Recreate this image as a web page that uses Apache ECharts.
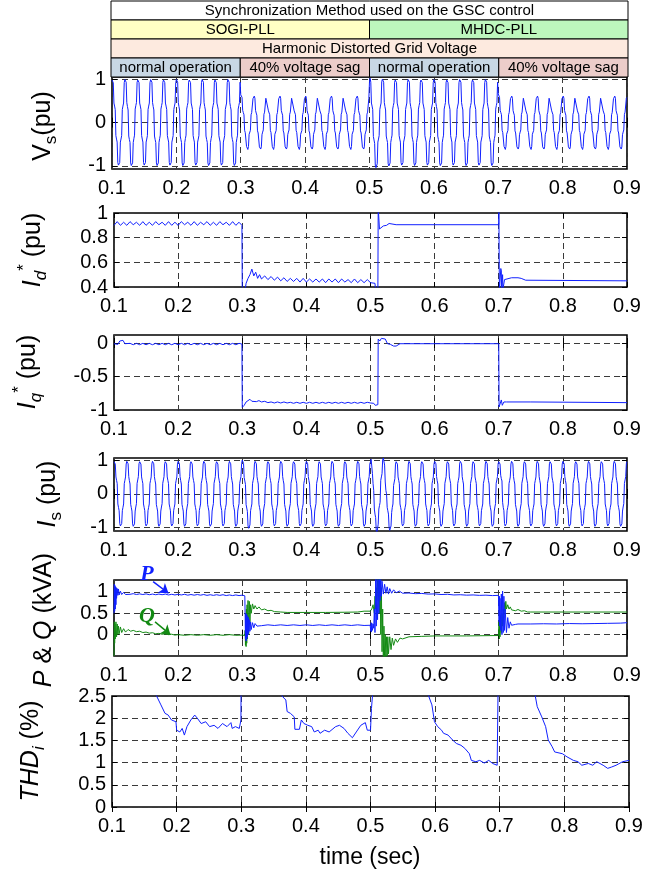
<!DOCTYPE html>
<html><head><meta charset="utf-8">
<script src="https://cdn.jsdelivr.net/npm/echarts@6/dist/echarts.min.js"></script>
<style>html,body{margin:0;padding:0;background:#fff}#chart{width:667px;height:875px}</style>
</head><body><div id="chart"></div>
<script>
// ---------------- data ----------------
const timeTicks = [0.1,0.2,0.3,0.4,0.5,0.6,0.7,0.8,0.9];
const waveStart = 0.1;      // s, first waveform sample
const sampleStep = 0.001;   // s, waveform sampling interval

// grid voltage Vs (pu), one row = one 20 ms cycle
const vsValues = [
0.98,1.00,0.92,0.45,0.38,0.30,-0.30,-0.38,-0.45,-0.92,-0.98,-1.00,-0.92,-0.45,-0.38,-0.30,0.30,0.38,0.45,0.92,
0.99,1.00,0.93,0.46,0.37,0.29,-0.31,-0.39,-0.46,-0.93,-0.99,-1.00,-0.93,-0.46,-0.37,-0.29,0.31,0.39,0.46,0.93,
0.98,1.00,0.92,0.45,0.38,0.30,-0.30,-0.38,-0.45,-0.92,-0.98,-1.00,-0.92,-0.45,-0.38,-0.30,0.30,0.38,0.45,0.92,
0.99,1.00,0.93,0.46,0.37,0.29,-0.31,-0.39,-0.46,-0.93,-0.99,-1.00,-0.93,-0.46,-0.37,-0.29,0.31,0.39,0.46,0.93,
0.98,1.00,0.92,0.45,0.38,0.30,-0.30,-0.38,-0.45,-0.92,-0.98,-1.00,-0.92,-0.45,-0.38,-0.30,0.30,0.38,0.45,0.92,
0.99,1.00,0.93,0.46,0.37,0.29,-0.31,-0.39,-0.46,-0.93,-0.99,-1.00,-0.93,-0.46,-0.37,-0.29,0.31,0.39,0.46,0.93,
0.98,1.00,0.92,0.45,0.38,0.30,-0.30,-0.38,-0.45,-0.92,-0.98,-1.00,-0.92,-0.45,-0.38,-0.30,0.30,0.38,0.45,0.92,
0.99,1.00,0.93,0.46,0.37,0.29,-0.31,-0.39,-0.46,-0.93,-0.99,-1.00,-0.93,-0.46,-0.37,-0.29,0.31,0.39,0.46,0.93,
0.98,1.00,0.92,0.45,0.38,0.30,-0.30,-0.38,-0.45,-0.92,-0.98,-1.00,-0.92,-0.45,-0.38,-0.30,0.30,0.38,0.45,0.92,
0.99,1.00,0.93,0.46,0.37,0.29,-0.31,-0.39,-0.46,-0.93,-0.99,-1.00,-0.93,-0.46,-0.37,-0.29,0.31,0.39,0.46,0.93,
0.64,0.66,0.58,0.28,0.23,0.18,-0.18,-0.23,-0.27,-0.55,-0.59,-0.62,-0.55,-0.27,-0.23,-0.18,0.18,0.23,0.27,0.55,
0.59,0.61,0.56,0.28,0.22,0.17,-0.19,-0.24,-0.28,-0.56,-0.60,-0.61,-0.56,-0.28,-0.22,-0.17,0.19,0.24,0.28,0.56,
0.58,0.60,0.55,0.27,0.23,0.18,-0.18,-0.23,-0.27,-0.55,-0.59,-0.62,-0.55,-0.27,-0.23,-0.18,0.18,0.23,0.27,0.55,
0.59,0.61,0.56,0.28,0.22,0.17,-0.19,-0.24,-0.28,-0.56,-0.60,-0.61,-0.56,-0.28,-0.22,-0.17,0.19,0.24,0.28,0.56,
0.58,0.60,0.55,0.27,0.23,0.18,-0.18,-0.23,-0.27,-0.55,-0.59,-0.62,-0.55,-0.27,-0.23,-0.18,0.18,0.23,0.27,0.55,
0.59,0.61,0.56,0.28,0.22,0.17,-0.19,-0.24,-0.28,-0.56,-0.60,-0.61,-0.56,-0.28,-0.22,-0.17,0.19,0.24,0.28,0.56,
0.58,0.60,0.55,0.27,0.23,0.18,-0.18,-0.23,-0.27,-0.55,-0.59,-0.62,-0.55,-0.27,-0.23,-0.18,0.18,0.23,0.27,0.55,
0.59,0.61,0.56,0.28,0.22,0.17,-0.19,-0.24,-0.28,-0.56,-0.60,-0.61,-0.56,-0.28,-0.22,-0.17,0.19,0.24,0.28,0.56,
0.58,0.60,0.55,0.27,0.23,0.18,-0.18,-0.23,-0.27,-0.55,-0.59,-0.62,-0.55,-0.27,-0.23,-0.18,0.18,0.23,0.27,0.55,
0.59,0.61,0.56,0.28,0.22,0.17,-0.19,-0.24,-0.28,-0.56,-0.60,-0.61,-0.56,-0.28,-0.22,-0.17,0.19,0.24,0.28,0.56,
0.95,1.02,0.93,0.45,0.38,0.30,-0.32,-0.40,-0.48,-0.98,-1.04,-1.06,-0.95,-0.45,-0.38,-0.30,0.30,0.38,0.45,0.94,
1.00,1.02,0.93,0.46,0.37,0.29,-0.31,-0.39,-0.46,-0.95,-1.00,-1.01,-0.93,-0.46,-0.37,-0.29,0.31,0.39,0.46,0.93,
0.98,1.00,0.92,0.45,0.38,0.30,-0.30,-0.38,-0.45,-0.92,-0.98,-1.00,-0.92,-0.45,-0.38,-0.30,0.30,0.38,0.45,0.92,
0.99,1.00,0.93,0.46,0.37,0.29,-0.31,-0.39,-0.46,-0.93,-0.99,-1.00,-0.93,-0.46,-0.37,-0.29,0.31,0.39,0.46,0.93,
0.98,1.00,0.92,0.45,0.38,0.30,-0.30,-0.38,-0.45,-0.92,-0.98,-1.00,-0.92,-0.45,-0.38,-0.30,0.30,0.38,0.45,0.92,
0.99,1.00,0.93,0.46,0.37,0.29,-0.31,-0.39,-0.46,-0.93,-0.99,-1.00,-0.93,-0.46,-0.37,-0.29,0.31,0.39,0.46,0.93,
0.98,1.00,0.92,0.45,0.38,0.30,-0.30,-0.38,-0.45,-0.92,-0.98,-1.00,-0.92,-0.45,-0.38,-0.30,0.30,0.38,0.45,0.92,
0.99,1.00,0.93,0.46,0.37,0.29,-0.31,-0.39,-0.46,-0.93,-0.99,-1.00,-0.93,-0.46,-0.37,-0.29,0.31,0.39,0.46,0.93,
0.98,1.00,0.92,0.45,0.38,0.30,-0.30,-0.38,-0.45,-0.92,-0.98,-1.00,-0.92,-0.45,-0.38,-0.30,0.30,0.38,0.45,0.92,
0.99,1.00,0.93,0.46,0.37,0.29,-0.31,-0.39,-0.46,-0.93,-0.99,-1.00,-0.93,-0.46,-0.37,-0.29,0.31,0.39,0.46,0.93,
0.66,0.70,0.58,0.28,0.23,0.18,-0.18,-0.23,-0.27,-0.55,-0.59,-0.62,-0.55,-0.27,-0.23,-0.18,0.18,0.23,0.27,0.55,
0.59,0.61,0.56,0.28,0.22,0.17,-0.19,-0.24,-0.28,-0.56,-0.60,-0.61,-0.56,-0.28,-0.22,-0.17,0.19,0.24,0.28,0.56,
0.58,0.60,0.55,0.27,0.23,0.18,-0.18,-0.23,-0.27,-0.55,-0.59,-0.62,-0.55,-0.27,-0.23,-0.18,0.18,0.23,0.27,0.55,
0.59,0.61,0.56,0.28,0.22,0.17,-0.19,-0.24,-0.28,-0.56,-0.60,-0.61,-0.56,-0.28,-0.22,-0.17,0.19,0.24,0.28,0.56,
0.58,0.60,0.55,0.27,0.23,0.18,-0.18,-0.23,-0.27,-0.55,-0.59,-0.62,-0.55,-0.27,-0.23,-0.18,0.18,0.23,0.27,0.55,
0.59,0.61,0.56,0.28,0.22,0.17,-0.19,-0.24,-0.28,-0.56,-0.60,-0.61,-0.56,-0.28,-0.22,-0.17,0.19,0.24,0.28,0.56,
0.58,0.60,0.55,0.27,0.23,0.18,-0.18,-0.23,-0.27,-0.55,-0.59,-0.62,-0.55,-0.27,-0.23,-0.18,0.18,0.23,0.27,0.55,
0.59,0.61,0.56,0.28,0.22,0.17,-0.19,-0.24,-0.28,-0.56,-0.60,-0.61,-0.56,-0.28,-0.22,-0.17,0.19,0.24,0.28,0.56,
0.58,0.60,0.55,0.27,0.23,0.18,-0.18,-0.23,-0.27,-0.55,-0.59,-0.62,-0.55,-0.27,-0.23,-0.18,0.18,0.23,0.27,0.55,
0.59,0.61,0.56,0.28,0.22,0.17,-0.19,-0.24,-0.28,-0.56,-0.60,-0.61,-0.56,-0.28,-0.22,-0.17,0.19,0.24,0.28,0.56,
0.58
];

// grid current Is (pu), one row = one 20 ms cycle
const isValues = [
0.95,0.97,0.88,0.50,0.40,0.30,-0.30,-0.40,-0.50,-0.88,-0.95,-0.97,-0.88,-0.50,-0.40,-0.30,0.30,0.40,0.50,0.88,
0.96,0.98,0.89,0.51,0.39,0.29,-0.31,-0.41,-0.51,-0.89,-0.96,-0.98,-0.89,-0.51,-0.39,-0.29,0.31,0.41,0.51,0.89,
0.95,0.97,0.88,0.50,0.40,0.30,-0.30,-0.40,-0.50,-0.88,-0.95,-0.97,-0.88,-0.50,-0.40,-0.30,0.30,0.40,0.50,0.88,
0.96,0.98,0.89,0.51,0.39,0.29,-0.31,-0.41,-0.51,-0.89,-0.96,-0.98,-0.89,-0.51,-0.39,-0.29,0.31,0.41,0.51,0.89,
0.95,0.97,0.88,0.50,0.40,0.30,-0.30,-0.40,-0.50,-0.88,-0.95,-0.97,-0.88,-0.50,-0.40,-0.30,0.30,0.40,0.50,0.88,
0.96,0.98,0.89,0.51,0.39,0.29,-0.31,-0.41,-0.51,-0.89,-0.96,-0.98,-0.89,-0.51,-0.39,-0.29,0.31,0.41,0.51,0.89,
0.95,0.97,0.88,0.50,0.40,0.30,-0.30,-0.40,-0.50,-0.88,-0.95,-0.97,-0.88,-0.50,-0.40,-0.30,0.30,0.40,0.50,0.88,
0.96,0.98,0.89,0.51,0.39,0.29,-0.31,-0.41,-0.51,-0.89,-0.96,-0.98,-0.89,-0.51,-0.39,-0.29,0.31,0.41,0.51,0.89,
0.95,0.97,0.88,0.50,0.40,0.30,-0.30,-0.40,-0.50,-0.88,-0.95,-0.97,-0.88,-0.50,-0.40,-0.30,0.30,0.40,0.50,0.88,
0.96,0.98,0.89,0.51,0.39,0.29,-0.31,-0.41,-0.51,-0.89,-0.96,-0.98,-0.89,-0.51,-0.39,-0.29,0.31,0.41,0.51,0.89,
1.00,1.02,0.90,0.48,0.38,0.28,-0.32,-0.42,-0.52,-0.95,-1.02,-1.05,-0.92,-0.50,-0.40,-0.30,0.30,0.40,0.50,0.88,
0.96,0.98,0.89,0.51,0.39,0.29,-0.31,-0.41,-0.51,-0.89,-0.96,-0.98,-0.89,-0.51,-0.39,-0.29,0.31,0.41,0.51,0.89,
0.95,0.97,0.88,0.50,0.40,0.30,-0.30,-0.40,-0.50,-0.88,-0.95,-0.97,-0.88,-0.50,-0.40,-0.30,0.30,0.40,0.50,0.88,
0.96,0.98,0.89,0.51,0.39,0.29,-0.31,-0.41,-0.51,-0.89,-0.96,-0.98,-0.89,-0.51,-0.39,-0.29,0.31,0.41,0.51,0.89,
0.95,0.97,0.88,0.50,0.40,0.30,-0.30,-0.40,-0.50,-0.88,-0.95,-0.97,-0.88,-0.50,-0.40,-0.30,0.30,0.40,0.50,0.88,
0.96,0.98,0.89,0.51,0.39,0.29,-0.31,-0.41,-0.51,-0.89,-0.96,-0.98,-0.89,-0.51,-0.39,-0.29,0.31,0.41,0.51,0.89,
0.95,0.97,0.88,0.50,0.40,0.30,-0.30,-0.40,-0.50,-0.88,-0.95,-0.97,-0.88,-0.50,-0.40,-0.30,0.30,0.40,0.50,0.88,
0.96,0.98,0.89,0.51,0.39,0.29,-0.31,-0.41,-0.51,-0.89,-0.96,-0.98,-0.89,-0.51,-0.39,-0.29,0.31,0.41,0.51,0.89,
0.95,0.97,0.88,0.50,0.40,0.30,-0.30,-0.40,-0.50,-0.88,-0.95,-0.97,-0.88,-0.50,-0.40,-0.30,0.30,0.40,0.50,0.88,
0.96,0.98,0.89,0.51,0.39,0.29,-0.31,-0.41,-0.51,-0.89,-0.96,-0.98,-0.89,-0.51,-0.39,-0.29,0.31,0.41,0.51,0.89,
0.95,1.02,1.05,0.60,0.30,0.10,-0.45,-0.60,-0.70,-1.10,-1.16,-1.12,-0.90,-0.45,-0.35,-0.25,0.40,0.50,0.60,1.00,
1.06,1.04,0.85,0.35,0.10,0.00,-0.40,-0.50,-0.60,-1.00,-1.08,-1.10,-0.95,-0.55,-0.40,-0.30,0.25,0.35,0.45,0.88,
0.95,0.97,0.88,0.50,0.40,0.30,-0.30,-0.40,-0.50,-0.88,-0.95,-0.97,-0.88,-0.50,-0.40,-0.30,0.30,0.40,0.50,0.88,
0.96,0.98,0.89,0.51,0.39,0.29,-0.31,-0.41,-0.51,-0.89,-0.96,-0.98,-0.89,-0.51,-0.39,-0.29,0.31,0.41,0.51,0.89,
0.95,0.97,0.88,0.50,0.40,0.30,-0.30,-0.40,-0.50,-0.88,-0.95,-0.97,-0.88,-0.50,-0.40,-0.30,0.30,0.40,0.50,0.88,
0.96,0.98,0.89,0.51,0.39,0.29,-0.31,-0.41,-0.51,-0.89,-0.96,-0.98,-0.89,-0.51,-0.39,-0.29,0.31,0.41,0.51,0.89,
0.95,0.97,0.88,0.50,0.40,0.30,-0.30,-0.40,-0.50,-0.88,-0.95,-0.97,-0.88,-0.50,-0.40,-0.30,0.30,0.40,0.50,0.88,
0.96,0.98,0.89,0.51,0.39,0.29,-0.31,-0.41,-0.51,-0.89,-0.96,-0.98,-0.89,-0.51,-0.39,-0.29,0.31,0.41,0.51,0.89,
0.95,0.97,0.88,0.50,0.40,0.30,-0.30,-0.40,-0.50,-0.88,-0.95,-0.97,-0.88,-0.50,-0.40,-0.30,0.30,0.40,0.50,0.88,
0.96,0.98,0.89,0.51,0.39,0.29,-0.31,-0.41,-0.51,-0.89,-0.96,-0.98,-0.89,-0.51,-0.39,-0.29,0.31,0.41,0.51,0.89,
0.95,0.97,0.88,0.55,0.45,0.38,-0.25,-0.40,-0.50,-0.88,-0.95,-0.97,-0.88,-0.50,-0.40,-0.30,0.30,0.40,0.50,0.88,
0.96,0.98,0.89,0.51,0.39,0.29,-0.31,-0.41,-0.51,-0.89,-0.96,-0.98,-0.89,-0.51,-0.39,-0.29,0.31,0.41,0.51,0.89,
0.95,0.97,0.88,0.50,0.40,0.30,-0.30,-0.40,-0.50,-0.88,-0.95,-0.97,-0.88,-0.50,-0.40,-0.30,0.30,0.40,0.50,0.88,
0.96,0.98,0.89,0.51,0.39,0.29,-0.31,-0.41,-0.51,-0.89,-0.96,-0.98,-0.89,-0.51,-0.39,-0.29,0.31,0.41,0.51,0.89,
0.95,0.97,0.88,0.50,0.40,0.30,-0.30,-0.40,-0.50,-0.88,-0.95,-0.97,-0.88,-0.50,-0.40,-0.30,0.30,0.40,0.50,0.88,
0.96,0.98,0.89,0.51,0.39,0.29,-0.31,-0.41,-0.51,-0.89,-0.96,-0.98,-0.89,-0.51,-0.39,-0.29,0.31,0.41,0.51,0.89,
0.95,0.97,0.88,0.50,0.40,0.30,-0.30,-0.40,-0.50,-0.88,-0.95,-0.97,-0.88,-0.50,-0.40,-0.30,0.30,0.40,0.50,0.88,
0.96,0.98,0.89,0.51,0.39,0.29,-0.31,-0.41,-0.51,-0.89,-0.96,-0.98,-0.89,-0.51,-0.39,-0.29,0.31,0.41,0.51,0.89,
0.95,0.97,0.88,0.50,0.40,0.30,-0.30,-0.40,-0.50,-0.88,-0.95,-0.97,-0.88,-0.50,-0.40,-0.30,0.30,0.40,0.50,0.88,
0.96,0.98,0.89,0.51,0.39,0.29,-0.31,-0.41,-0.51,-0.89,-0.96,-0.98,-0.89,-0.51,-0.39,-0.29,0.31,0.41,0.51,0.89,
0.95
];

// Id* reference (pu): [time, value]
const idPoints = [
[0.100,0.90],[0.105,0.93],[0.110,0.90],[0.115,0.925],[0.120,0.90],[0.125,0.93],[0.130,0.905],[0.135,0.925],[0.140,0.90],[0.145,0.93],
[0.150,0.90],[0.155,0.925],[0.160,0.90],[0.165,0.93],[0.170,0.905],[0.175,0.925],[0.180,0.90],[0.185,0.93],[0.190,0.90],[0.195,0.925],
[0.200,0.90],[0.205,0.93],[0.210,0.905],[0.215,0.925],[0.220,0.90],[0.225,0.93],[0.230,0.90],[0.235,0.925],[0.240,0.905],[0.245,0.93],
[0.250,0.90],[0.255,0.925],[0.260,0.90],[0.265,0.93],[0.270,0.905],[0.275,0.925],[0.280,0.90],[0.285,0.93],[0.290,0.90],[0.295,0.925],[0.2995,0.90],
[0.300,0.36],[0.304,0.36],[0.306,0.43],[0.309,0.47],[0.312,0.50],[0.315,0.545],[0.318,0.49],[0.321,0.52],[0.324,0.47],[0.327,0.50],
[0.330,0.465],[0.335,0.49],[0.340,0.46],[0.345,0.485],[0.350,0.455],[0.355,0.48],[0.360,0.45],[0.365,0.475],[0.370,0.445],[0.375,0.47],
[0.380,0.445],[0.385,0.47],[0.390,0.44],[0.395,0.47],[0.400,0.44],[0.405,0.465],[0.410,0.44],[0.415,0.465],[0.420,0.44],[0.425,0.465],
[0.430,0.435],[0.435,0.465],[0.440,0.44],[0.445,0.465],[0.450,0.435],[0.455,0.465],[0.460,0.44],[0.465,0.46],[0.470,0.435],[0.475,0.465],
[0.480,0.435],[0.485,0.46],[0.490,0.435],[0.495,0.46],[0.500,0.435],[0.503,0.425],[0.507,0.43],[0.508,0.36],[0.5115,0.36],[0.512,1.05],
[0.5135,1.05],[0.514,0.87],[0.516,0.88],[0.520,0.895],[0.525,0.90],[0.529,0.915],[0.532,0.90],[0.540,0.905],[0.700,0.905],
[0.7002,1.05],[0.7008,1.05],[0.701,0.36],[0.703,0.36],[0.7032,0.55],[0.704,0.53],[0.7045,0.38],[0.7055,0.38],[0.706,0.50],[0.7065,0.38],
[0.7075,0.38],[0.709,0.46],[0.712,0.47],[0.720,0.475],[0.730,0.475],[0.735,0.47],[0.738,0.465],[0.742,0.455],[0.745,0.45],[0.900,0.45]
];

// Iq* reference (pu): [time, value]
const iqPoints = [
[0.100,-0.01],[0.103,0.00],[0.106,-0.02],[0.109,0.03],[0.112,0.01],[0.114,0.04],[0.117,-0.01],[0.120,-0.02],[0.125,-0.005],[0.130,-0.025],
[0.135,-0.005],[0.140,-0.025],[0.145,-0.005],[0.150,-0.025],[0.155,-0.005],[0.160,-0.025],[0.165,-0.005],[0.170,-0.025],[0.175,-0.005],[0.180,-0.025],
[0.185,-0.005],[0.190,-0.025],[0.195,-0.005],[0.200,-0.025],[0.205,-0.005],[0.210,-0.025],[0.215,-0.005],[0.220,-0.025],[0.225,-0.005],[0.230,-0.025],
[0.235,-0.005],[0.240,-0.025],[0.245,-0.005],[0.250,-0.025],[0.255,-0.005],[0.260,-0.025],[0.265,-0.005],[0.270,-0.025],[0.275,-0.005],[0.280,-0.025],
[0.285,-0.005],[0.290,-0.025],[0.295,-0.005],[0.2995,-0.015],
[0.300,-0.96],[0.303,-0.93],[0.306,-0.88],[0.309,-0.87],[0.312,-0.84],[0.315,-0.87],[0.318,-0.85],[0.322,-0.875],[0.326,-0.86],[0.330,-0.88],
[0.335,-0.87],[0.340,-0.89],[0.345,-0.88],[0.350,-0.895],[0.355,-0.88],[0.360,-0.895],[0.365,-0.88],[0.370,-0.895],[0.375,-0.885],[0.380,-0.9],
[0.385,-0.885],[0.390,-0.9],[0.395,-0.885],[0.400,-0.9],[0.405,-0.885],[0.410,-0.9],[0.415,-0.885],[0.420,-0.9],[0.425,-0.885],[0.430,-0.9],
[0.435,-0.885],[0.440,-0.9],[0.445,-0.885],[0.450,-0.9],[0.455,-0.885],[0.460,-0.9],[0.465,-0.885],[0.470,-0.9],[0.475,-0.885],[0.480,-0.9],
[0.485,-0.885],[0.490,-0.9],[0.495,-0.885],[0.500,-0.895],[0.505,-0.90],[0.5075,-0.93],[0.5115,-0.92],[0.512,0.06],[0.513,0.08],[0.5145,0.03],
[0.517,0.07],[0.520,0.085],[0.523,0.06],[0.5265,-0.01],[0.531,-0.02],[0.536,-0.045],[0.540,-0.045],[0.546,-0.01],[0.700,-0.01],
[0.7005,-0.955],[0.703,-0.93],[0.704,-0.85],[0.7055,-0.93],[0.708,-0.88],[0.712,-0.88],[0.750,-0.88],[0.752,-0.89],[0.900,-0.89]
];

// active power P (kVA): [time, value]
const pPoints = [
[0.100,0.50],[0.1005,1.18],[0.101,0.55],[0.1015,1.15],[0.102,0.60],[0.1025,1.12],[0.103,0.70],[0.1035,1.10],[0.104,0.85],[0.105,1.08],
[0.106,0.92],[0.107,1.07],[0.108,0.93],[0.110,1.02],[0.112,0.94],[0.115,0.99],[0.118,0.94],[0.121,0.97],[0.125,0.945],
[0.130,0.96],[0.135,0.94],[0.140,0.955],[0.145,0.94],[0.150,0.955],[0.155,0.935],[0.160,0.95],[0.165,0.935],[0.170,0.95],[0.175,0.935],
[0.180,0.95],[0.185,0.93],[0.190,0.945],[0.195,0.93],[0.200,0.945],[0.205,0.93],[0.210,0.945],[0.215,0.925],[0.220,0.94],[0.225,0.925],
[0.230,0.94],[0.235,0.925],[0.240,0.94],[0.245,0.92],[0.250,0.935],[0.255,0.92],[0.260,0.935],[0.265,0.92],[0.270,0.935],[0.275,0.915],
[0.280,0.93],[0.285,0.915],[0.290,0.93],[0.295,0.915],[0.300,0.925],[0.304,0.91],
[0.3045,0.45],[0.305,-0.10],[0.3055,0.50],[0.306,-0.15],[0.3065,0.48],[0.307,-0.10],[0.3075,0.45],[0.308,-0.05],[0.3085,0.42],[0.309,0.00],
[0.3095,0.40],[0.310,0.05],[0.311,0.35],[0.312,0.08],[0.313,0.30],[0.314,0.12],[0.316,0.28],[0.318,0.16],[0.320,0.26],[0.323,0.20],
[0.326,0.24],[0.330,0.21],[0.340,0.23],[0.350,0.215],[0.360,0.23],[0.370,0.215],[0.380,0.23],[0.390,0.215],[0.400,0.23],[0.410,0.215],
[0.420,0.23],[0.430,0.215],[0.440,0.23],[0.450,0.215],[0.460,0.23],[0.470,0.215],[0.480,0.23],[0.490,0.215],[0.4995,0.22],
[0.5005,0.08],[0.501,0.28],[0.5015,0.06],[0.502,0.27],[0.503,0.10],[0.504,0.25],[0.505,0.15],[0.506,0.60],[0.507,0.05],[0.508,1.30],
[0.509,0.20],[0.510,1.30],[0.511,0.35],[0.512,1.30],[0.513,0.50],[0.514,1.30],[0.515,0.80],[0.516,1.30],[0.517,0.90],[0.518,1.25],
[0.520,0.95],[0.522,1.18],[0.524,0.97],[0.526,1.12],[0.528,0.95],[0.530,1.08],[0.533,0.97],[0.536,1.05],[0.540,0.98],[0.545,1.02],[0.550,0.97],
[0.560,0.975],[0.570,0.96],[0.580,0.965],[0.590,0.95],[0.600,0.955],[0.610,0.94],[0.620,0.945],[0.630,0.93],[0.640,0.935],[0.650,0.925],
[0.660,0.93],[0.670,0.92],[0.680,0.925],[0.690,0.915],[0.6995,0.92],
[0.7005,0.30],[0.701,0.90],[0.7015,0.20],[0.702,0.85],[0.703,0.10],[0.704,0.95],[0.705,0.00],[0.706,1.02],[0.707,0.05],[0.708,0.90],
[0.709,0.10],[0.710,0.60],[0.712,0.05],[0.714,0.40],[0.716,0.15],[0.718,0.30],[0.720,0.22],[0.723,0.26],[0.726,0.24],[0.730,0.25],
[0.750,0.25],[0.770,0.255],[0.790,0.25],[0.810,0.26],[0.830,0.255],[0.850,0.26],[0.870,0.265],[0.890,0.27],[0.900,0.28]
];

// reactive power Q (kVA): [time, value]
const qPoints = [
[0.100,-0.50],[0.1005,0.30],[0.101,-0.20],[0.1015,0.25],[0.102,-0.10],[0.103,0.30],[0.104,-0.05],[0.105,0.25],[0.106,0.00],[0.107,0.20],
[0.108,0.02],[0.110,0.18],[0.112,0.05],[0.115,0.14],[0.118,0.06],[0.122,0.12],[0.126,0.08],[0.130,0.10],[0.135,0.07],[0.140,0.08],
[0.145,0.05],[0.150,0.06],[0.155,0.035],[0.160,0.045],[0.165,0.02],[0.170,0.03],[0.175,0.01],[0.180,0.02],[0.185,0.00],[0.190,0.01],
[0.195,-0.01],[0.200,0.00],[0.210,-0.015],[0.220,0.00],[0.230,-0.015],[0.240,0.00],[0.250,-0.015],[0.260,0.00],[0.270,-0.015],[0.280,0.00],
[0.290,-0.015],[0.300,-0.01],[0.304,-0.02],
[0.3045,0.10],[0.305,-0.25],[0.3055,0.50],[0.306,-0.28],[0.3065,0.60],[0.307,-0.20],[0.3075,0.70],[0.308,-0.10],[0.309,0.80],[0.310,0.00],
[0.311,0.78],[0.312,0.30],[0.313,0.70],[0.314,0.50],[0.316,0.72],[0.318,0.60],[0.320,0.68],[0.323,0.60],[0.326,0.65],[0.330,0.58],
[0.335,0.60],[0.340,0.56],[0.345,0.57],[0.350,0.54],[0.360,0.53],[0.370,0.52],[0.400,0.52],[0.430,0.52],[0.460,0.525],[0.480,0.53],
[0.490,0.55],[0.4995,0.55],
[0.502,0.60],[0.504,0.70],[0.506,0.50],[0.507,0.90],[0.508,0.60],[0.509,1.10],[0.510,0.80],[0.511,1.30],[0.512,0.90],[0.513,1.30],
[0.514,0.50],[0.515,1.30],[0.516,0.00],[0.517,1.10],[0.518,-0.40],[0.519,0.60],[0.520,-0.55],[0.521,0.20],[0.522,-0.55],[0.523,0.00],
[0.524,-0.55],[0.525,-0.05],[0.526,-0.50],[0.527,-0.05],[0.528,-0.45],[0.530,-0.05],[0.532,-0.35],[0.534,-0.08],[0.536,-0.25],[0.539,-0.10],
[0.542,-0.18],[0.546,-0.08],[0.550,-0.10],[0.560,-0.05],[0.580,-0.04],[0.600,-0.03],[0.650,-0.03],[0.6995,-0.02],
[0.7005,0.30],[0.701,-0.10],[0.7015,0.40],[0.702,-0.05],[0.703,0.45],[0.704,0.05],[0.705,0.50],[0.706,0.20],[0.707,0.60],[0.708,0.40],
[0.709,0.75],[0.710,0.55],[0.711,0.78],[0.712,0.60],[0.714,0.70],[0.716,0.60],[0.718,0.65],[0.720,0.58],[0.723,0.62],[0.726,0.56],
[0.730,0.59],[0.735,0.55],[0.740,0.56],[0.745,0.53],[0.750,0.53],[0.900,0.53]
];

// current THD (%): [time, value]
const thdPoints = [
[0.100,4.0],[0.160,3.0],[0.169,2.5],[0.1757,2.30],[0.182,2.11],[0.187,2.07],[0.192,1.96],[0.199,1.92],[0.200,1.73],[0.205,1.69],
[0.2086,1.77],[0.212,1.62],[0.216,1.81],[0.222,1.96],[0.228,2.07],[0.232,2.00],[0.238,1.88],[0.245,1.92],[0.251,1.81],[0.258,1.84],
[0.264,1.77],[0.271,1.88],[0.278,1.81],[0.284,1.90],[0.286,1.77],[0.291,1.81],[0.297,1.77],[0.2995,1.96],[0.300,4.0],
[0.362,3.0],[0.363,2.5],[0.369,2.41],[0.371,2.15],[0.376,2.11],[0.382,2.03],[0.383,1.75],[0.390,1.75],[0.393,1.96],[0.397,1.88],
[0.403,1.84],[0.409,1.81],[0.413,1.69],[0.419,1.73],[0.422,1.66],[0.429,1.73],[0.436,1.69],[0.446,1.81],[0.452,1.84],[0.459,1.77],
[0.465,1.66],[0.472,1.56],[0.478,1.69],[0.485,1.84],[0.492,1.90],[0.495,1.73],[0.500,1.73],[0.5015,2.22],[0.503,2.5],[0.504,4.0],
[0.589,3.0],[0.590,2.5],[0.595,2.30],[0.599,1.92],[0.604,1.81],[0.610,1.73],[0.613,1.66],[0.620,1.62],[0.627,1.51],[0.633,1.43],
[0.640,1.39],[0.646,1.32],[0.653,1.20],[0.656,1.05],[0.663,1.02],[0.669,1.05],[0.676,0.99],[0.683,1.05],[0.689,0.98],[0.696,0.94],
[0.698,0.94],[0.6985,4.0],
[0.754,3.0],[0.755,2.5],[0.758,2.26],[0.765,2.03],[0.771,1.81],[0.775,1.51],[0.781,1.36],[0.785,1.24],[0.797,1.20],[0.804,1.13],
[0.814,1.05],[0.821,1.02],[0.827,0.94],[0.837,0.98],[0.844,0.94],[0.850,1.02],[0.860,0.94],[0.867,0.87],[0.873,0.90],[0.880,0.94],
[0.890,1.02],[0.900,1.05]
];

// y tick labels
const vsTicks = [-1,0,1];
const idTicks = [0.4,0.6,0.8,1];
const iqTicks = [-1,-0.5,0];
const isTicks = [-1,0,1];
const pqTicks = [0,0.5,1];
const thdTicks = [0,0.5,1,1.5,2,2.5];

// header table
const headerLabels = ['Synchronization Method used on the GSC control','SOGI-PLL','MHDC-PLL','Harmonic Distorted Grid Voltage',
  'normal operation','40% voltage sag','normal operation','40% voltage sag'];
const headerStart = [0.1,0.1,0.5,0.1,0.1,0.3,0.5,0.7];
const headerEnd   = [0.9,0.5,0.9,0.9,0.3,0.5,0.7,0.9];
const headerRow   = [0,1,1,2,3,3,3,3];
const headerKind  = ['plain','sogi','mhdc','grid','normal','sag','normal','sag'];

// ---------------- styling / layout ----------------
const FONT = 'Liberation Sans';
const headerFill = {plain:'#ffffff', sogi:'#ffffc4', mhdc:'#bdf7bd', grid:'#fdeadf', normal:'#c8d7e4', sag:'#eccdca'};
const BLUE = '#1020ff', GREEN = '#138a13';

const panels = [
  {left:112, top:77,  width:515, height:92,  min:-1.07, max:1.05, ticks:vsTicks},
  {left:114, top:213, width:513, height:74,  min:0.4,   max:1,    ticks:idTicks},
  {left:114, top:335, width:513, height:75,  min:-1,    max:0.12, ticks:iqTicks},
  {left:114, top:458, width:513, height:73,  min:-1.1,  max:1.06, ticks:isTicks},
  {left:114, top:580, width:513, height:76,  min:-0.5,  max:1.28, ticks:pqTicks},
  {left:112, top:696, width:517, height:111, min:0,     max:2.5,  ticks:thdTicks}
];
const N = panels.length;

const toWave = vals => vals.map((v,i) => [+(waveStart + i*sampleStep).toFixed(4), v]);

const dash = {type:[6,4], color:'#3a3a3a', width:1};
const grids = panels.map(p => ({left:p.left, top:p.top, width:p.width, height:p.height, show:true,
  borderColor:'#000', borderWidth:1.6, backgroundColor:'rgba(0,0,0,0)'}));
grids.push({left:111, top:1, width:517, height:76});

const tickStyle = {show:true, inside:true, length:5, lineStyle:{color:'#000', width:1}};
const xAxes = panels.map((p,i) => ({type:'value', gridIndex:i, min:0.1, max:0.9,
  axisLine:{show:false},
  axisTick:Object.assign({customValues:timeTicks}, tickStyle),
  axisLabel:{customValues:timeTicks, fontSize:20, color:'#000', fontFamily:FONT, margin:9, formatter:v => v.toFixed(1)},
  splitLine:{show:true, lineStyle:dash}}));
xAxes.push({type:'value', gridIndex:N, min:0.1, max:0.9, show:false});
// mirrored ticks on the top edge
panels.forEach((p,i) => xAxes.push({type:'value', gridIndex:i, position:'top', min:0.1, max:0.9,
  axisLine:{show:false}, axisTick:Object.assign({customValues:timeTicks}, tickStyle),
  axisLabel:{show:false}, splitLine:{show:false}}));

const yAxes = panels.map((p,i) => ({type:'value', gridIndex:i, min:p.min, max:p.max,
  axisLine:{show:false},
  axisTick:Object.assign({customValues:p.ticks}, tickStyle),
  axisLabel:{customValues:p.ticks, fontSize:20, color:'#000', fontFamily:FONT, margin:6, formatter:v => String(v)},
  splitLine:{show:true, lineStyle:dash}}));
yAxes.push({type:'value', gridIndex:N, min:0, max:4, inverse:true, show:false});
// mirrored ticks on the right edge
panels.forEach((p,i) => yAxes.push({type:'value', gridIndex:i, position:'right', min:p.min, max:p.max,
  axisLine:{show:false}, axisTick:Object.assign({customValues:p.ticks}, tickStyle),
  axisLabel:{show:false}, splitLine:{show:false}}));

const lineBase = {type:'line', showSymbol:false, symbol:'none', animation:false, clip:true};
const series = [
  Object.assign({}, lineBase, {xAxisIndex:0, yAxisIndex:0, data:toWave(vsValues), lineStyle:{color:BLUE, width:1}}),
  Object.assign({}, lineBase, {xAxisIndex:1, yAxisIndex:1, data:idPoints, lineStyle:{color:BLUE, width:1}}),
  Object.assign({}, lineBase, {xAxisIndex:2, yAxisIndex:2, data:iqPoints, lineStyle:{color:BLUE, width:1}}),
  Object.assign({}, lineBase, {xAxisIndex:3, yAxisIndex:3, data:toWave(isValues), lineStyle:{color:BLUE, width:1}}),
  Object.assign({}, lineBase, {xAxisIndex:4, yAxisIndex:4, data:qPoints, lineStyle:{color:GREEN, width:1},
    markLine:{silent:true, symbol:['none','arrow'], symbolSize:9, label:{show:false}, animation:false,
      lineStyle:{color:GREEN, width:1.5, type:'solid'}, data:[[{coord:[0.164,0.30]},{coord:[0.188,0.0]}]]}}),
  Object.assign({}, lineBase, {xAxisIndex:4, yAxisIndex:4, data:pPoints, lineStyle:{color:BLUE, width:1},
    markLine:{silent:true, symbol:['none','arrow'], symbolSize:9, label:{show:false}, animation:false,
      lineStyle:{color:BLUE, width:1.5, type:'solid'}, data:[[{coord:[0.161,1.24]},{coord:[0.185,0.97]}]]}}),
  Object.assign({}, lineBase, {xAxisIndex:5, yAxisIndex:5, data:thdPoints, lineStyle:{color:BLUE, width:1}}),
  {type:'custom', xAxisIndex:N, yAxisIndex:N, animation:false, silent:true,
    data: headerLabels.map((t,i) => [headerStart[i], headerEnd[i], headerRow[i]]),
    renderItem(params, api) {
      const i = params.dataIndex;
      const p0 = api.coord([api.value(0), api.value(2)]);
      const p1 = api.coord([api.value(1), api.value(2) + 1]);
      return {type:'group', children:[
        {type:'rect', shape:{x:p0[0], y:p0[1], width:p1[0]-p0[0], height:p1[1]-p0[1]},
          style:{fill:headerFill[headerKind[i]], stroke:'#000', lineWidth:1}},
        {type:'text', x:(p0[0]+p1[0])/2, y:(p0[1]+p1[1])/2 + 0.5,
          style:{text:headerLabels[i], align:'center', verticalAlign:'middle', fontSize:15, fontFamily:FONT, fill:'#000'}}
      ]};
    }}
];

const rich = {
  m:{fontSize:25, fontFamily:FONT, fill:'#000', lineHeight:34, verticalAlign:'middle'},
  i:{fontSize:25, fontFamily:FONT, fontStyle:'italic', fill:'#000', lineHeight:34, verticalAlign:'middle'},
  sub:{fontSize:17, fontFamily:FONT, fill:'#000', lineHeight:17, verticalAlign:'bottom'},
  isub:{fontSize:17, fontFamily:FONT, fontStyle:'italic', fill:'#000', lineHeight:17, verticalAlign:'bottom'},
  sup:{fontSize:17, fontFamily:FONT, fill:'#000', lineHeight:17, verticalAlign:'top'}
};
const titles = [
  {text:'{m|V}{sub|s}{m|(pu)}', x:43, y:126},
  {text:'{i|I}{isub|d}{sup|*}{m| (pu)}', x:33, y:250},
  {text:'{i|I}{isub|q}{sup|*}{m| (pu)}', x:28, y:372},
  {text:'{i|I}{sub|s}{m| (pu)}', x:48, y:494},
  {text:'{i|P}{m| & }{i|Q}{m| (kVA)}', x:44, y:620},
  {text:'{i|THD}{isub|i}{m| (%)}', x:31, y:751}
];
const graphic = titles.map(t => ({type:'text', x:t.x, y:t.y, rotation:Math.PI/2, silent:true,
  style:{text:t.text, rich, align:'center', verticalAlign:'middle'}}));
graphic.push({type:'text', x:370, y:858, silent:true,
  style:{text:'time (sec)', fontSize:23, fontFamily:FONT, fill:'#000', align:'center', verticalAlign:'middle'}});
graphic.push({type:'text', x:147, y:574, silent:true,
  style:{text:'P', fontSize:22, fontFamily:'Liberation Serif', fontStyle:'italic', fontWeight:'bold', fill:BLUE, align:'center', verticalAlign:'middle'}});
graphic.push({type:'text', x:147, y:616, silent:true,
  style:{text:'Q', fontSize:22, fontFamily:'Liberation Serif', fontStyle:'italic', fontWeight:'bold', fill:GREEN, align:'center', verticalAlign:'middle'}});

const chart = echarts.init(document.getElementById('chart'), null, {renderer:'canvas'});
chart.setOption({animation:false, backgroundColor:'#fff', grid:grids, xAxis:xAxes, yAxis:yAxes, series, graphic});
</script></body></html>
